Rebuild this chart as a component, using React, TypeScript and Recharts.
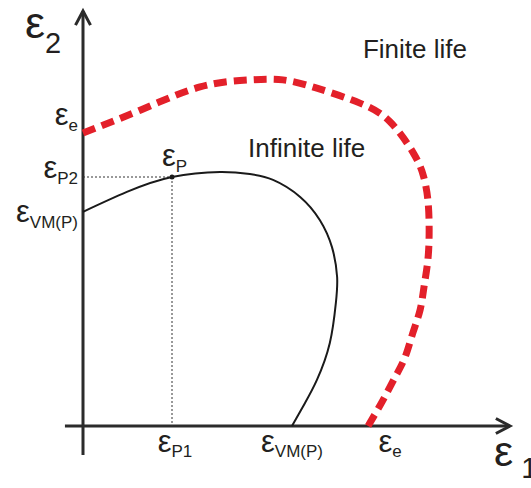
import React from 'react';
import { ComposedChart, Line, XAxis, YAxis, ReferenceLine, ReferenceDot } from 'recharts';

// strain-plane limit curves (eps1 on x, eps2 on y)
const vonMisesCurve = [
  { x: 0, y: 5.16 },
  { x: 1.02, y: 5.64 },
  { x: 2.07, y: 6.0 },
  { x: 3.19, y: 6.12 },
  { x: 3.88, y: 6.07 },
  { x: 4.42, y: 5.93 },
  { x: 5.05, y: 5.52 },
  { x: 5.51, y: 4.96 },
  { x: 5.79, y: 4.31 },
  { x: 5.91, y: 3.59 },
  { x: 5.88, y: 2.96 },
  { x: 5.74, y: 2.0 },
  { x: 5.44, y: 1.11 },
  { x: 5.16, y: 0.55 },
  { x: 4.86, y: 0 },
];

const enduranceCurve = [
  { x: 0, y: 7.06 },
  { x: 1.33, y: 7.61 },
  { x: 2.72, y: 8.17 },
  { x: 3.88, y: 8.34 },
  { x: 4.65, y: 8.34 },
  { x: 5.44, y: 8.14 },
  { x: 6.44, y: 7.78 },
  { x: 7.14, y: 7.33 },
  { x: 7.67, y: 6.6 },
  { x: 7.91, y: 6.05 },
  { x: 8.02, y: 5.45 },
  { x: 8.05, y: 4.72 },
  { x: 8.02, y: 4.0 },
  { x: 7.93, y: 3.35 },
  { x: 7.84, y: 2.8 },
  { x: 7.67, y: 2.24 },
  { x: 7.49, y: 1.66 },
  { x: 7.26, y: 1.18 },
  { x: 6.98, y: 0.63 },
  { x: 6.63, y: 0 },
];

const pointP = { x: 2.07, y: 6.0 };

const yTickValues = [7.06, 6.0, 5.16];
const yTickSubs = ['e', 'P2', 'VM(P)'];
const xTickValues = [2.07, 4.86, 6.63];
const xTickSubs = ['P1', 'VM(P)', 'e'];

const regionLabels = [
  { x: 6.51, y: 8.87, text: 'Finite life' },
  { x: 3.84, y: 6.48, text: 'Infinite life' },
];

const FONT = '"Liberation Sans", Arial, Helvetica, sans-serif';
const INK = '#231f20';
const AXIS = '#2b2b2b';

const ArrowLine = (props: any) => {
  const { x1, y1, x2, y2 } = props;
  const ang = Math.atan2(y2 - y1, x2 - x1);
  const len = 16;
  const spread = (28 * Math.PI) / 180;
  const a1 = ang + Math.PI - spread;
  const a2 = ang + Math.PI + spread;
  const head = `${x2 + len * Math.cos(a1)},${y2 + len * Math.sin(a1)} ${x2},${y2} ${x2 + len * Math.cos(a2)},${y2 + len * Math.sin(a2)}`;
  return (
    <g>
      <line x1={x1} y1={y1} x2={x2} y2={y2} stroke={AXIS} strokeWidth={3} />
      <polyline points={head} fill="none" stroke={AXIS} strokeWidth={3} />
    </g>
  );
};

const EpsLabel = ({ x, y, sub, anchor, big, subSize, subDy, subDx = 0 }: any) => (
  <text x={x} y={y} fontFamily={FONT} fill={INK} textAnchor={anchor}>
    <tspan fontSize={big}>ε</tspan>
    <tspan fontSize={subSize} dy={subDy} dx={subDx}>{sub}</tspan>
  </text>
);

// vertical offsets of the eps2 tick labels, kept clear of the curves
const yLabelShift = [-8, 1, 10];
// horizontal offsets of the eps1 tick labels
const xLabelShift = [3, 0, 22];

export default function App() {
  return (
    <div style={{ position: 'absolute', left: 0, top: 0, background: '#fff' }}>
      <ComposedChart width={531} height={488} margin={{ top: 11, right: 18, bottom: 20.5, left: 61.5 }}>
        <XAxis type="number" dataKey="x" domain={[-0.5, 10]} hide allowDataOverflow />
        <YAxis type="number" dataKey="y" domain={[-1, 10]} hide allowDataOverflow />

        <ReferenceLine
          segment={[{ x: -0.42, y: 0 }, { x: 9.93, y: 0 }]}
          shape={ArrowLine}
          ifOverflow="visible"
        />
        <ReferenceLine
          segment={[{ x: 0, y: -0.7 }, { x: 0, y: 10 }]}
          shape={ArrowLine}
          ifOverflow="visible"
        />

        <ReferenceLine
          segment={[{ x: 0, y: pointP.y }, { x: pointP.x, y: pointP.y }]}
          stroke="#333"
          strokeWidth={1}
          strokeDasharray="2 2"
        />
        <ReferenceLine
          segment={[{ x: pointP.x, y: pointP.y }, { x: pointP.x, y: 0 }]}
          stroke="#333"
          strokeWidth={1}
          strokeDasharray="2 2"
        />

        <Line
          data={enduranceCurve}
          dataKey="y"
          type="natural"
          stroke="#e3202a"
          strokeWidth={7}
          strokeDasharray="13 7"
          dot={false}
          activeDot={false}
          isAnimationActive={false}
        />
        <Line
          data={vonMisesCurve}
          dataKey="y"
          type="natural"
          stroke="#1a1a1a"
          strokeWidth={2}
          dot={false}
          activeDot={false}
          isAnimationActive={false}
        />

        <ReferenceDot
          x={pointP.x}
          y={pointP.y}
          r={2.5}
          shape={(p: any) => (
            <g>
              <circle cx={p.cx} cy={p.cy} r={2.5} fill="#1a1a1a" />
              <EpsLabel x={p.cx - 10} y={p.cy - 11} sub="P" anchor="start" big={31} subSize={17} subDy={6} />
            </g>
          )}
        />

        {yTickValues.map((v, i) => (
          <ReferenceDot
            key={'y' + i}
            x={0}
            y={v}
            r={1}
            ifOverflow="visible"
            shape={(p: any) => (
              <EpsLabel
                x={p.cx - 5}
                y={p.cy + yLabelShift[i]}
                sub={yTickSubs[i]}
                anchor="end"
                big={31}
                subSize={17}
                subDy={6}
              />
            )}
          />
        ))}

        {xTickValues.map((v, i) => (
          <ReferenceDot
            key={'x' + i}
            x={v}
            y={0}
            r={1}
            ifOverflow="visible"
            shape={(p: any) => (
              <EpsLabel
                x={p.cx + xLabelShift[i]}
                y={p.cy + 26}
                sub={xTickSubs[i]}
                anchor="middle"
                big={31}
                subSize={17}
                subDy={5}
              />
            )}
          />
        ))}

        {/* axis titles at the arrow tips */}
        <ReferenceDot
          x={0}
          y={10}
          r={1}
          ifOverflow="visible"
          shape={(p: any) => (
            <EpsLabel x={p.cx - 58} y={p.cy + 27} sub="2" anchor="start" big={45} subSize={29} subDy={15} />
          )}
        />
        <ReferenceDot
          x={9.93}
          y={0}
          r={1}
          ifOverflow="visible"
          shape={(p: any) => (
            <EpsLabel x={p.cx - 16} y={p.cy + 40} sub="1" anchor="start" big={43} subSize={29} subDy={12} subDx={8} />
          )}
        />

        {regionLabels.map((r) => (
          <ReferenceDot
            key={r.text}
            x={r.x}
            y={r.y}
            r={1}
            shape={(p: any) => (
              <text x={p.cx} y={p.cy} fontFamily={FONT} fontSize={26} fill={INK}>
                {r.text}
              </text>
            )}
          />
        ))}
      </ComposedChart>
    </div>
  );
}
